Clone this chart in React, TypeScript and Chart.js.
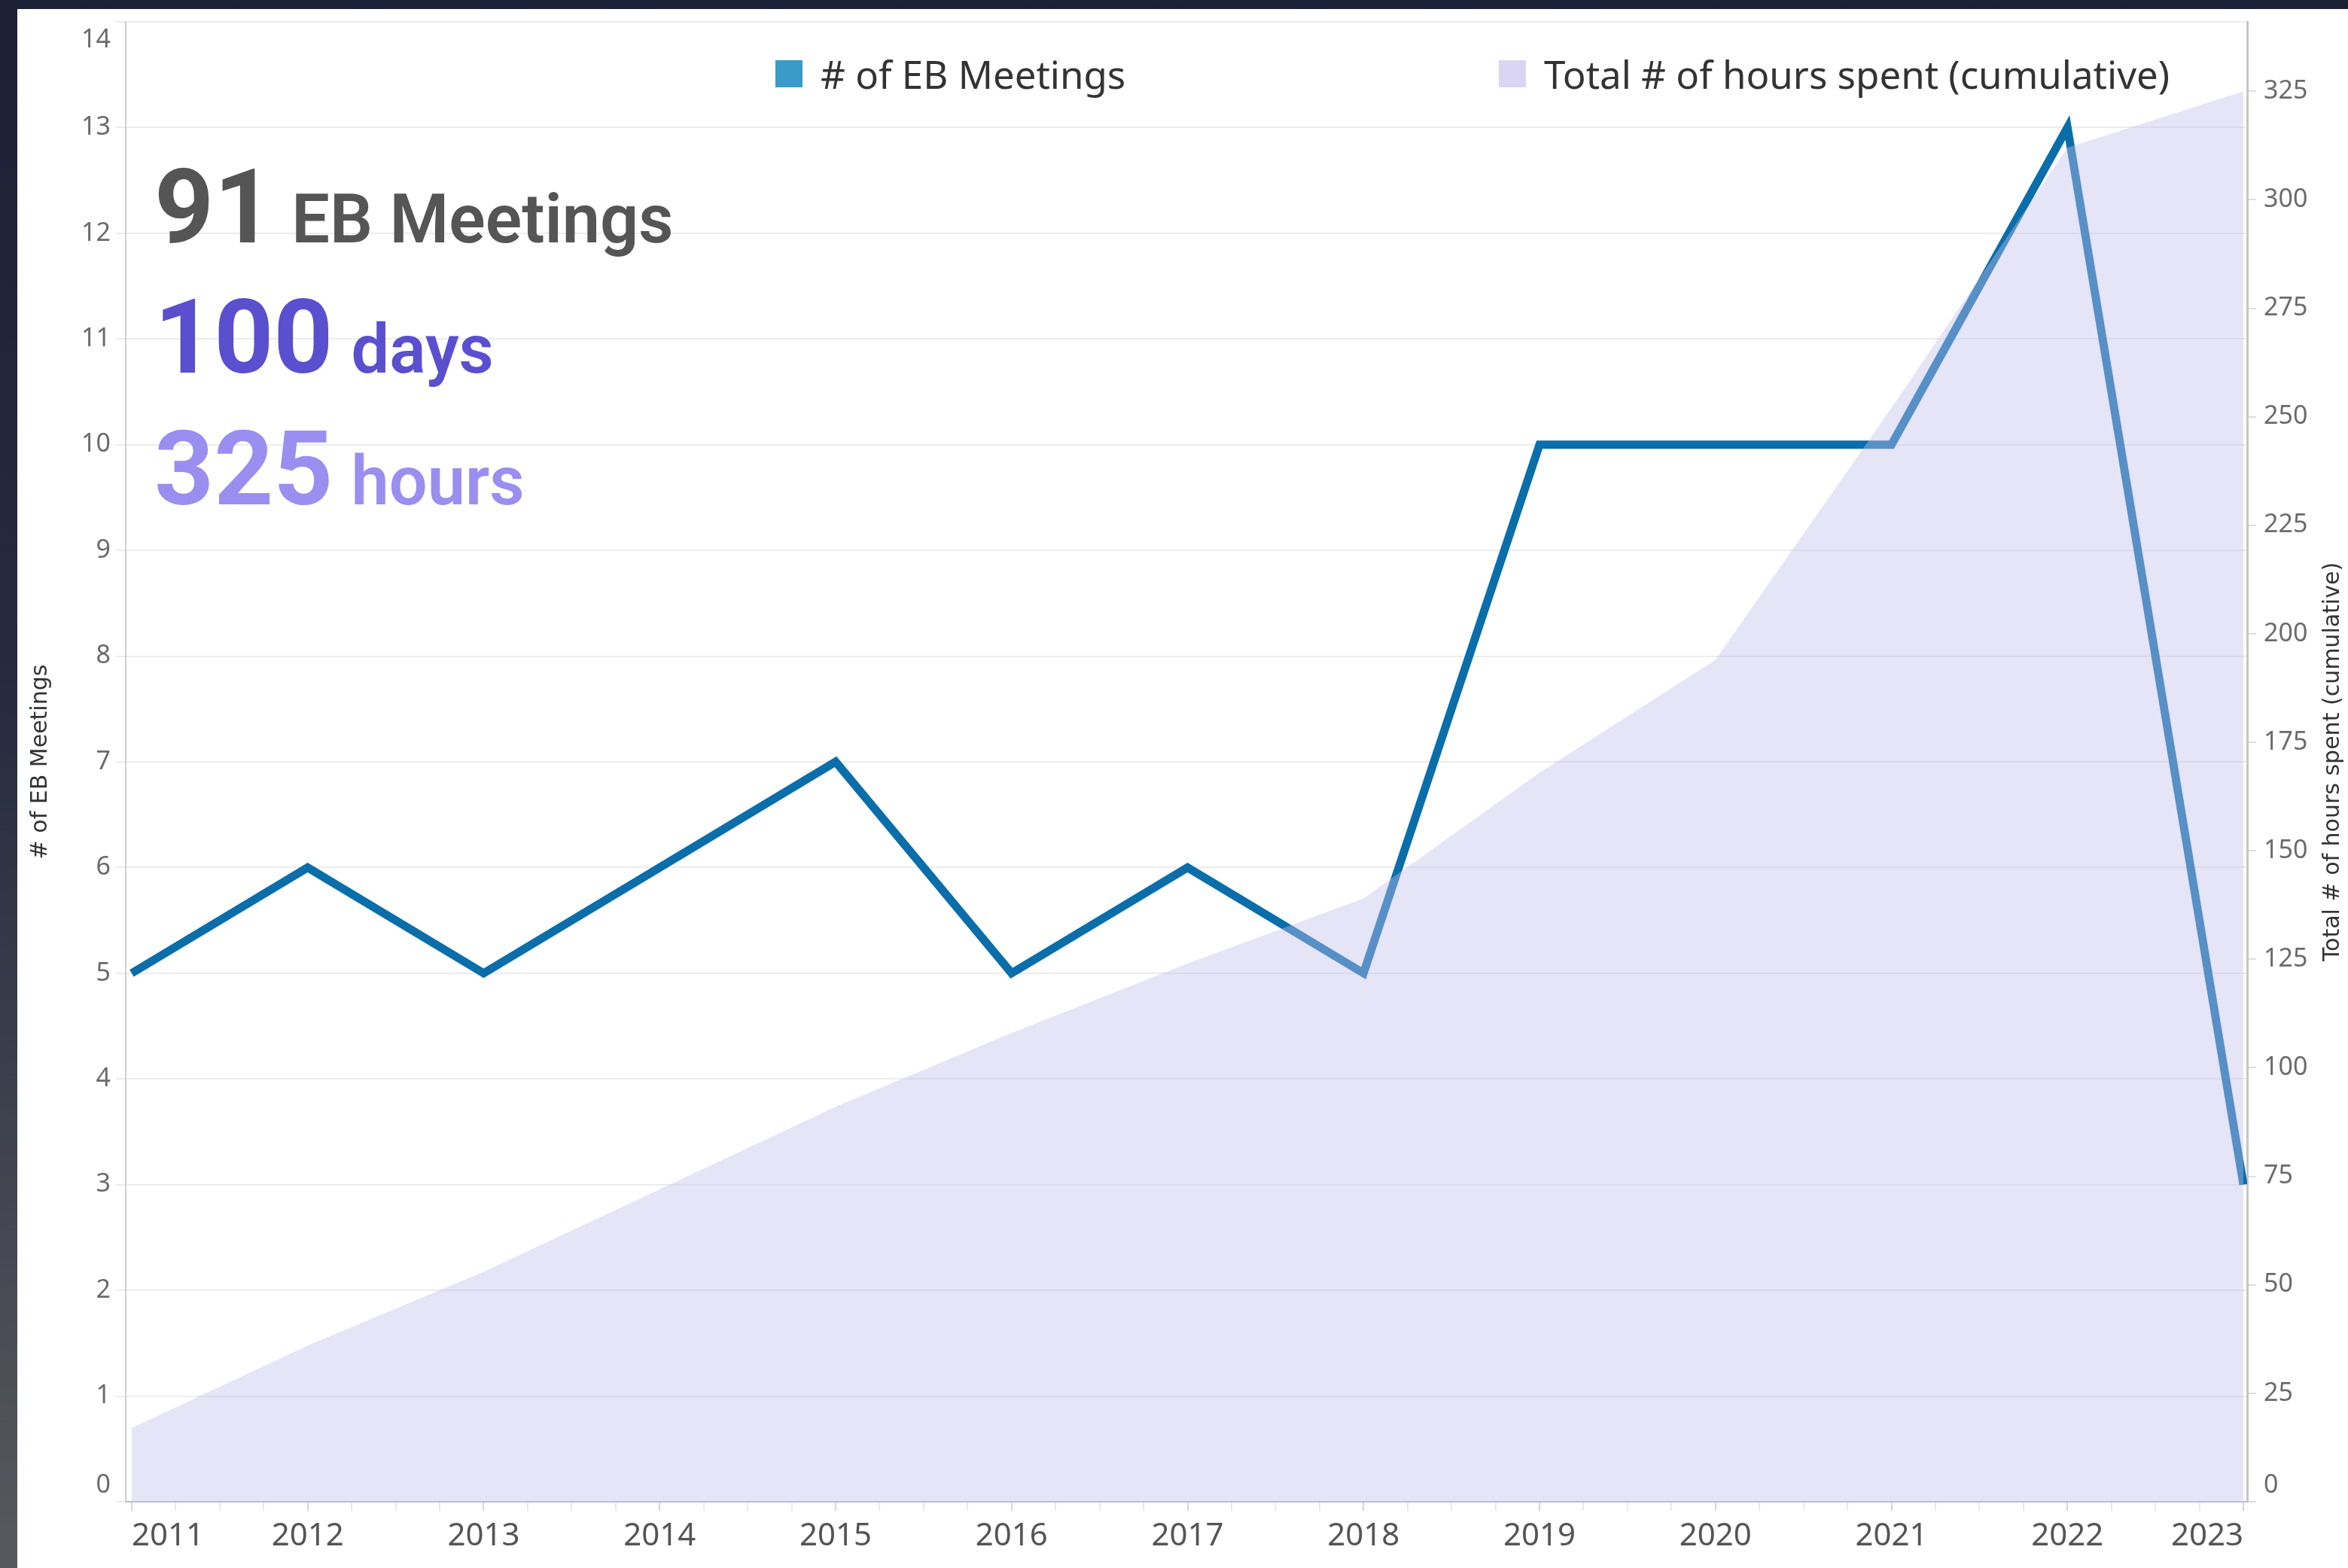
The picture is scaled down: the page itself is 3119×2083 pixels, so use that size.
import { useEffect, useRef } from 'react';
import { Chart, registerables } from 'chart.js';

Chart.register(...registerables);

// ---- data ----
const years = [2011, 2012, 2013, 2014, 2015, 2016, 2017, 2018, 2019, 2020, 2021, 2022, 2023];
const meetings = [5, 6, 5, 6, 7, 5, 6, 5, 10, 10, 10, 13, 3];
const hoursCumulative = [17, 36, 53, 72, 91, 108, 124, 139, 168, 194, 252, 312, 325];
const seriesLabels = ['# of EB Meetings', 'Total # of hours spent (cumulative)'];
const axisTitles = ['# of EB Meetings', 'Total # of hours spent (cumulative)'];
const summaryNumbers = ['91', '100', '325'];
const summaryUnits = ['EB Meetings', 'days', 'hours'];
const leftRange = [0, 14];
const rightRange = [0, 341];

// quarter tick marks along the year axis
const xTickValues: number[] = [];
for (let i = 0; i < years.length; i++) {
  xTickValues.push(years[i]);
  if (i < years.length - 1) {
    xTickValues.push(years[i] + 0.25, years[i] + 0.5, years[i] + 0.75);
  }
}

const LINE_COLOR = '#0a6eab';
const AREA_FILL = 'rgba(196,190,236,0.42)';
const LEGEND_LINE = '#3a9bc9';
const LEGEND_AREA = '#d9d5f3';
const summaryColors = ['#555555', '#5a4fcf', '#9a8ef0'];
const TICK_FONT = '34px "Noto Sans"';
const TICK_COLOR = '#6b6b6b';

// right axis title reading bottom-to-top, and the inward-shifted end labels
const extrasPlugin = {
  id: 'extras',
  afterDraw(chart: any) {
    const ctx = chart.ctx;
    const { top, bottom } = chart.chartArea;
    const y = chart.scales.y;
    const y1 = chart.scales.y1;
    ctx.save();
    ctx.translate(y1.right - 20, (top + bottom) / 2);
    ctx.rotate(-Math.PI / 2);
    ctx.font = '30px "DejaVu Sans"';
    ctx.fillStyle = '#333333';
    ctx.textAlign = 'center';
    ctx.textBaseline = 'middle';
    ctx.fillText(axisTitles[1], 0, 0);
    ctx.restore();

    ctx.save();
    ctx.font = TICK_FONT;
    ctx.fillStyle = TICK_COLOR;
    ctx.textBaseline = 'middle';
    ctx.textAlign = 'right';
    const lx = y.right - 13 - 7;
    ctx.fillText(String(leftRange[1]), lx, y.getPixelForValue(leftRange[1]) + 24);
    ctx.fillText(String(leftRange[0]), lx, y.getPixelForValue(leftRange[0]) - 22);
    ctx.textAlign = 'left';
    const rx = y1.left + 12 + 10;
    ctx.fillText(String(rightRange[0]), rx, y1.getPixelForValue(rightRange[0]) - 22);
    ctx.restore();
  },
};

function App() {
  const canvasRef = useRef<HTMLCanvasElement | null>(null);

  useEffect(() => {
    if (!canvasRef.current) return;
    const chart = new Chart(canvasRef.current, {
      type: 'line',
      data: {
        datasets: [
          {
            label: seriesLabels[1],
            data: years.map((yr, i) => ({ x: yr, y: hoursCumulative[i] })),
            yAxisID: 'y1',
            xAxisID: 'x',
            fill: 'origin',
            backgroundColor: AREA_FILL,
            borderWidth: 0,
            borderColor: 'rgba(0,0,0,0)',
            pointRadius: 0,
            tension: 0,
            order: 0,
          },
          {
            label: seriesLabels[0],
            data: years.map((yr, i) => ({ x: yr, y: meetings[i] })),
            yAxisID: 'y',
            xAxisID: 'x',
            fill: false,
            borderColor: LINE_COLOR,
            borderWidth: 11,
            borderJoinStyle: 'miter',
            borderCapStyle: 'butt',
            pointRadius: 0,
            tension: 0,
            order: 1,
          },
        ],
      },
      options: {
        responsive: true,
        maintainAspectRatio: false,
        animation: false,
        layout: { padding: { top: 17, left: 0, right: 0, bottom: 0 } },
        plugins: {
          legend: { display: false },
          tooltip: { enabled: false },
        },
        scales: {
          x: {
            type: 'linear',
            position: 'bottom',
            min: 2010.966,
            max: 2023.021,
            afterBuildTicks: (s: any) => {
              s.ticks = xTickValues.map((v) => ({ value: v }));
            },
            afterFit: (s: any) => {
              s.height = 88;
            },
            ticks: {
              autoSkip: false,
              maxRotation: 0,
              minRotation: 0,
              align: 'inner',
              padding: 9,
              color: '#555555',
              font: { size: 42, family: 'Noto Sans' },
              callback: (v: any) => (Number.isInteger(v) ? String(v) : ''),
            },
            grid: {
              drawOnChartArea: false,
              drawTicks: true,
              tickLength: 12,
              lineWidth: 2,
              tickColor: (c: any) =>
                c.tick && Number.isInteger(c.tick.value) ? '#d6d6d6' : '#e9e9e9',
            },
            border: { display: true, color: '#bdb8d6', width: 2, dash: [8, 5] },
          },
          y: {
            type: 'linear',
            position: 'left',
            min: leftRange[0],
            max: leftRange[1],
            afterFit: (s: any) => {
              s.width = 144;
            },
            ticks: {
              stepSize: 1,
              padding: 7,
              color: TICK_COLOR,
              font: { size: 34, family: 'Noto Sans', lineHeight: 1 },
              callback: (v: any) => (v === leftRange[0] || v === leftRange[1] ? '' : String(v)),
            },
            grid: {
              color: '#ececec',
              lineWidth: 2,
              tickLength: 13,
              drawTicks: true,
            },
            border: { display: true, color: '#cfcfcf', width: 2 },
            title: {
              display: true,
              text: axisTitles[0],
              color: '#333333',
              font: { size: 30, family: 'DejaVu Sans', lineHeight: 1.2 },
              padding: { top: 13, bottom: 0 },
            },
          },
          y1: {
            type: 'linear',
            position: 'right',
            min: rightRange[0],
            max: rightRange[1],
            afterFit: (s: any) => {
              s.width = 134;
            },
            ticks: {
              stepSize: 25,
              includeBounds: false,
              padding: 10,
              color: TICK_COLOR,
              font: { size: 34, family: 'Noto Sans', lineHeight: 1 },
              callback: (v: any) => (v === rightRange[0] ? '' : String(v)),
            },
            grid: {
              drawOnChartArea: false,
              drawTicks: true,
              tickLength: 12,
              lineWidth: 2,
              color: '#dedede',
            },
            border: { display: true, color: '#c6c6c6', width: 3 },
          },
        },
      } as any,
      plugins: [extrasPlugin],
    });
    return () => chart.destroy();
  }, []);

  const legendItems = [
    { left: 1030, color: LEGEND_LINE, text: seriesLabels[0] },
    { left: 1991, color: LEGEND_AREA, text: seriesLabels[1] },
  ];
  const summaryTops = [206, 379, 554];

  return (
    <div
      style={{
        position: 'fixed',
        left: 0,
        top: 0,
        width: 3119,
        height: 2083,
        overflow: 'hidden',
        background: 'linear-gradient(to bottom, #1b2036 0%, #262b3f 45%, #58595e 100%)',
      }}
    >
      <div
        style={{
          position: 'absolute',
          left: 23,
          top: 12,
          right: 0,
          bottom: 0,
          background: '#ffffff',
        }}
      />
      <div style={{ position: 'absolute', left: 23, top: 2, width: 3096, height: 2081 }}>
        <canvas ref={canvasRef} style={{ display: 'block' }} />
      </div>
      {legendItems.map((it, i) => (
        <div
          key={i}
          style={{
            position: 'absolute',
            left: it.left,
            top: 73,
            height: 50,
            display: 'flex',
            alignItems: 'center',
            whiteSpace: 'nowrap',
            pointerEvents: 'none',
          }}
        >
          <div style={{ width: 36, height: 36, background: it.color, marginRight: 24 }} />
          <span
            style={{
              fontFamily: '"Noto Sans"',
              fontSize: 51,
              lineHeight: '50px',
              color: '#333333',
            }}
          >
            {it.text}
          </span>
        </div>
      ))}
      {summaryNumbers.map((num, i) => (
        <div
          key={i}
          style={{
            position: 'absolute',
            left: 205,
            top: summaryTops[i],
            fontFamily: 'Roboto',
            fontSize: 138,
            lineHeight: '138px',
            whiteSpace: 'nowrap',
            color: summaryColors[i],
            pointerEvents: 'none',
          }}
        >
          <span style={{ fontWeight: 700 }}>{num}</span>
          <span style={{ fontWeight: 600, fontSize: 90, marginLeft: 24 }}>{summaryUnits[i]}</span>
        </div>
      ))}
    </div>
  );
}

export default App;
